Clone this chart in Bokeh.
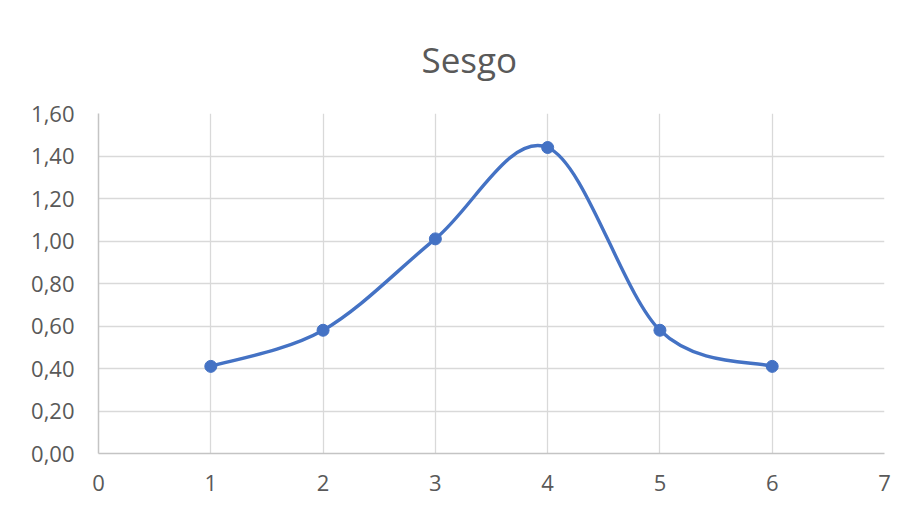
import numpy as np
from bokeh.plotting import figure
from bokeh.models import FixedTicker, Range1d
from bokeh.embed import file_html
from bokeh.resources import INLINE

chart_title = "Sesgo"
x_vals = [1, 2, 3, 4, 5, 6]
y_vals = [0.41, 0.58, 1.01, 1.44, 0.58, 0.41]
x_ticks = [0, 1, 2, 3, 4, 5, 6, 7]
y_ticks = [0.0, 0.2, 0.4, 0.6, 0.8, 1.0, 1.2, 1.4, 1.6]
y_tick_labels = ["0,00", "0,20", "0,40", "0,60", "0,80", "1,00", "1,20", "1,40", "1,60"]

LINE = "#4472C4"
TXT = "#595959"
GRID = "#d9d9d9"
FONT = "Open Sans"

p = figure(width=904, height=504, output_backend="svg", toolbar_location=None,
           x_range=Range1d(0, 7), y_range=Range1d(0, 1.6),
           min_border_left=98, min_border_right=20, min_border_top=113, min_border_bottom=51)
p.outline_line_color = None
p.background_fill_color = "white"
p.border_fill_color = "white"

p.title.text = chart_title
p.title.align = "left"
p.title.offset = 323
p.title.text_font = FONT
p.title.text_font_size = "35px"
p.title.text_font_style = "normal"
p.title.text_color = TXT
p.title.standoff = 61

p.xaxis.ticker = FixedTicker(ticks=x_ticks, minor_ticks=[])
p.yaxis.ticker = FixedTicker(ticks=y_ticks, minor_ticks=[])
p.yaxis.major_label_overrides = {t: l for t, l in zip(y_ticks, y_tick_labels)}
for ax in (p.xaxis, p.yaxis):
    ax.major_tick_line_color = None
    ax.minor_tick_line_color = None
    ax.major_tick_out = 0
    ax.major_tick_in = 0
    ax.axis_line_color = "#c4c4c4"
    ax.axis_line_width = 1.5
    ax.major_label_text_font = FONT
    ax.major_label_text_font_size = "22px"
    ax.major_label_text_color = TXT
p.xaxis.major_label_standoff = 21
p.yaxis.major_label_standoff = 24

p.xgrid.ticker = FixedTicker(ticks=x_ticks, minor_ticks=[])
p.ygrid.ticker = FixedTicker(ticks=y_ticks, minor_ticks=[])
for g in (p.xgrid, p.ygrid):
    g.grid_line_color = GRID
    g.grid_line_width = 1.3

# Excel-style smoothed line: cubic Bezier segments from the data points
xs = np.array(x_vals, dtype=float)
ys = np.array(y_vals, dtype=float)
xe = np.concatenate([[xs[0]], xs, [xs[-1]]])
ye = np.concatenate([[ys[0]], ys, [ys[-1]]])
n = len(xs)
x0 = xs[:-1]; y0 = ys[:-1]; x1 = xs[1:]; y1 = ys[1:]
cx0 = xe[1:n] + (xe[2:n + 1] - xe[0:n - 1]) / 6.0
cy0 = ye[1:n] + (ye[2:n + 1] - ye[0:n - 1]) / 6.0
cx1 = xe[2:n + 1] - (xe[3:n + 2] - xe[1:n]) / 6.0
cy1 = ye[2:n + 1] - (ye[3:n + 2] - ye[1:n]) / 6.0
p.bezier(x0=x0, y0=y0, x1=x1, y1=y1, cx0=cx0, cy0=cy0, cx1=cx1, cy1=cy1,
         line_color=LINE, line_width=3.4, line_cap="round")
p.scatter(x_vals, y_vals, size=12, marker="circle", fill_color=LINE, line_color=LINE)

open("out.html", "w").write(file_html(p, INLINE))
